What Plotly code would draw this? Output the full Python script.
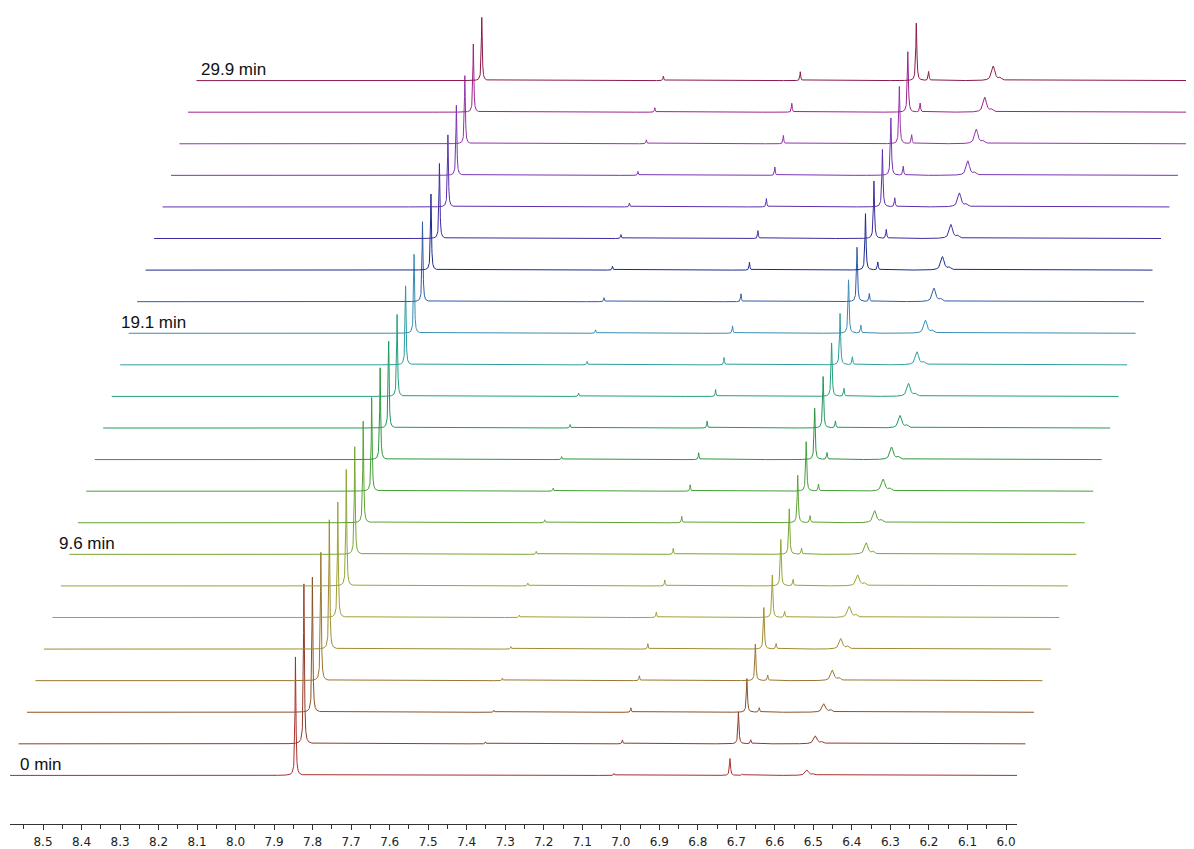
import numpy as np
import plotly.graph_objects as go

# ---------------- data ----------------
time_labels = ["0 min", "9.6 min", "19.1 min", "29.9 min"]
label_traces = [0, 7, 14, 22]
label_px = [18, 57, 119, 199]

# peak chemical shifts (ppm) in the frame of the first spectrum
peak_ppm = [7.8445, 7.3733, 7.0177, 6.7165, 6.6846, 6.5166, 6.4984]
peak_hwhm = [0.0014, 0.0012, 0.0012, 0.0016, 0.0014, 0.0050, 0.0040]

# peak heights per spectrum (23 spectra, 0 -> 29.9 min)
h_p1 = [120, 162, 137, 130, 131, 117, 118, 109, 103, 95, 93, 88, 83, 80, 80, 81, 77, 76, 73, 71, 69, 69, 64]
h_p2 = [0.5, 2, 2, 2.5, 2.5, 2.5, 3, 3, 3, 3, 3, 3.5, 3.5, 3.5, 3.5, 4, 4, 4, 4, 4, 4, 4.5, 4.5]
h_p3 = [2, 4, 4.5, 5, 5.5, 5.5, 6, 6, 6.5, 6.5, 7, 7, 7, 7.5, 7.5, 8, 8, 8, 8.5, 8.5, 8.5, 9, 9]
h_p4 = [17, 32, 34, 37, 42, 43, 47, 46, 48, 50, 52, 52, 54, 52, 54, 55, 57, 58, 58, 58, 58, 61, 58]
h_p5 = [1.5, 4, 4.5, 5.5, 5.5, 6, 6.5, 6, 7, 7, 7, 7, 8, 8, 8, 8, 8, 9, 9, 9, 9, 9, 9]
h_p6 = [5.5, 8, 8.5, 10.5, 10.5, 11, 11, 11.5, 12, 12, 12.5, 12.5, 13, 13, 13, 13.5, 13.5, 14, 14, 14.5, 14.5, 15, 14.5]
h_p6s = [1.5, 2, 2, 2.5, 2.5, 2.5, 2.5, 2.5, 2.5, 2.5, 2.5, 2.5, 2.5, 2.5, 2.5, 2.5, 2.5, 2.5, 2.5, 2.5, 2.5, 2.5, 2.5]

colors = [
    "#a8302e", "#933a28", "#8a5226", "#9a7630", "#a08c30", "#a2a036",
    "#90a834", "#7aa532", "#5fa234", "#44a038", "#2c963e", "#22985a",
    "#24a07c", "#2c9ea0", "#3a8cb4", "#2e5ea8", "#1c2a8e", "#3a2ca0",
    "#5a30ae", "#7a34b4", "#9434aa", "#9e2290", "#8a1a4c",
]

tick_vals = [8.5, 8.4, 8.3, 8.2, 8.1, 8.0, 7.9, 7.8, 7.7, 7.6, 7.5, 7.4, 7.3,
             7.2, 7.1, 7.0, 6.9, 6.8, 6.7, 6.6, 6.5, 6.4, 6.3, 6.2, 6.1, 6.0]
tick_text = ["%.1f" % v for v in tick_vals]

# ---------------- geometry (page pixels; the page body adds an 8px offset) ----------------
OFF = 8
W, H = 1194 - OFF, 849 - OFF
PLOT_L, PLOT_R, PLOT_T, PLOT_B = 10, 1188, 8, 826      # page pixels
ML, MR, MT, MB = PLOT_L - OFF, W - (PLOT_R - OFF), PLOT_T - OFF, H - (PLOT_B - OFF)
PW = PLOT_R - PLOT_L
PX_PER_PPM = 385.2
X_LEFT_PPM = 8.5 + (43 - PLOT_L) / PX_PER_PPM
X_RIGHT_PPM = X_LEFT_PPM - PW / PX_PER_PPM
AXIS_END_PPM = X_LEFT_PPM - (1017 - PLOT_L) / PX_PER_PPM
SHIFT_PPM = 8.47 / PX_PER_PPM
Y_STEP = 31.66
Y_BOTTOM = -(PLOT_B - 777.3)
Y_TOP = Y_BOTTOM + (PLOT_B - PLOT_T)

n = len(h_p1)
ppm = np.arange(AXIS_END_PPM, X_LEFT_PPM + 1e-9, 0.0004)

def lor(x, c, g):
    return 1.0 / (1.0 + ((x - c) / g) ** 2)

heights = [h_p1, h_p2, h_p3, h_p4, h_p5, h_p6, h_p6s]

fig = go.Figure()
for i in range(n):
    spec = np.zeros_like(ppm)
    for k, c in enumerate(peak_ppm):
        spec += heights[k][i] * lor(ppm, c, peak_hwhm[k])
    fig.add_trace(go.Scatter(
        x=ppm - i * SHIFT_PPM, y=spec + i * Y_STEP,
        mode="lines", line=dict(color=colors[i], width=1),
        hoverinfo="skip", showlegend=False, xaxis="x", yaxis="y",
    ))

# carrier trace for the visible ppm axis
fig.add_trace(go.Scatter(x=[tick_vals[0]], y=[0], mode="markers",
                         marker=dict(opacity=0), hoverinfo="skip",
                         showlegend=False, xaxis="x2", yaxis="y"))

for lab, ti, px in zip(time_labels, label_traces, label_px):
    fig.add_annotation(text=lab, xref="paper", x=(px - PLOT_L) / PW,
                       yref="y", y=ti * Y_STEP - 0.5, xanchor="left", yanchor="bottom",
                       showarrow=False,
                       font=dict(family="Liberation Sans, Arial", size=17, color="#111"))

fig.update_layout(
    width=W, height=H,
    margin=dict(l=ML, r=MR, t=MT, b=MB, pad=0),
    paper_bgcolor="white", plot_bgcolor="rgba(0,0,0,0)",
    xaxis=dict(range=[X_LEFT_PPM, X_RIGHT_PPM], domain=[0, 1], visible=False,
               showgrid=False, zeroline=False),
    xaxis2=dict(range=[X_LEFT_PPM, AXIS_END_PPM],
                domain=[0, (1017 - PLOT_L) / PW], anchor="y",
                showline=True, linecolor="#333", linewidth=1,
                ticks="outside", ticklen=5, tickcolor="#333",
                tickvals=tick_vals, ticktext=tick_text, ticklabelstandoff=2,
                tickfont=dict(family="DejaVu Sans", size=12, color="#222"),
                minor=dict(ticks="outside", ticklen=4, tickcolor="#333", dtick=0.05, tick0=6.0),
                showgrid=False, zeroline=False),
    yaxis=dict(range=[Y_BOTTOM, Y_TOP], visible=False, showgrid=False, zeroline=False),
)

fig.write_html("out.html")
